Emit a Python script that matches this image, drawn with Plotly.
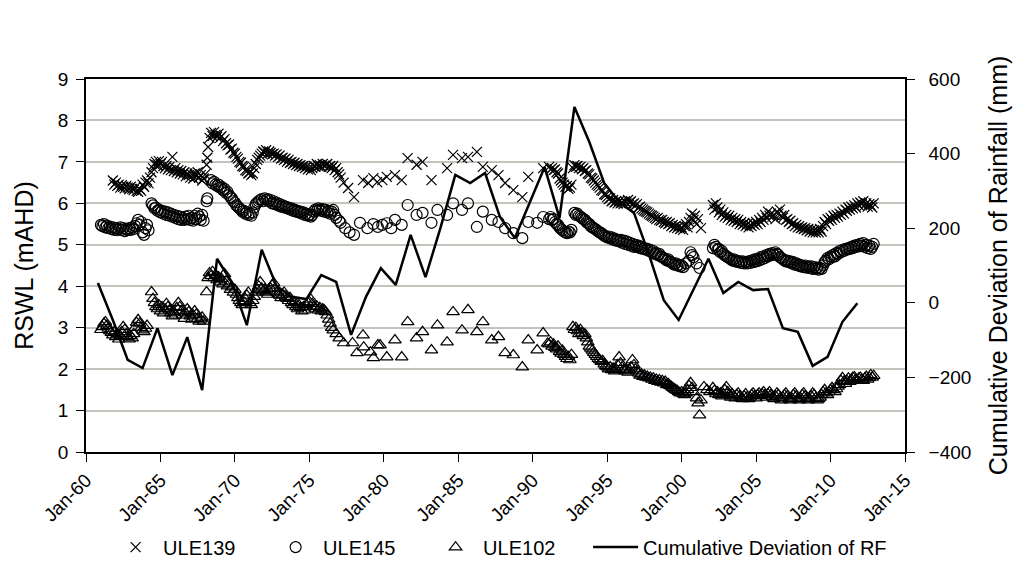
import plotly.graph_objects as go
from datetime import datetime, timedelta

# ---------------- data ----------------
ule139_year = [
    1961.8, 1961.9, 1962.0, 1962.1, 1962.2, 1962.3, 1962.4, 1962.5, 1962.6, 1962.7, 1962.8, 1962.9,
    1963.0, 1963.1, 1963.2, 1963.3, 1963.4, 1963.5, 1963.6, 1963.7, 1963.8, 1963.9, 1964.0, 1964.1,
    1964.2, 1964.3, 1964.4, 1964.5, 1964.6, 1964.7, 1964.8, 1964.9, 1965.0, 1965.1, 1965.2, 1965.3,
    1965.4, 1965.5, 1965.6, 1965.7, 1965.8, 1965.9, 1966.0, 1966.1, 1966.2, 1966.3, 1966.4, 1966.5,
    1966.6, 1966.7, 1966.8, 1966.9, 1967.0, 1967.1, 1967.2, 1967.3, 1967.4, 1967.5, 1967.6, 1967.7,
    1967.8, 1967.9, 1968.0, 1968.1, 1968.15, 1968.2, 1968.3, 1968.4, 1968.5, 1968.6, 1968.7, 1968.8,
    1968.9, 1969.0, 1969.1, 1969.2, 1969.3, 1969.4, 1969.5, 1969.6, 1969.7, 1969.8, 1969.9, 1970.0,
    1970.1, 1970.2, 1970.3, 1970.4, 1970.5, 1970.6, 1970.7, 1970.8, 1970.9, 1971.0, 1971.1, 1971.2,
    1971.3, 1971.4, 1971.5, 1971.6, 1971.7, 1971.8, 1971.9, 1972.0, 1972.1, 1972.2, 1972.3, 1972.4,
    1972.5, 1972.6, 1972.7, 1972.8, 1972.9, 1973.0, 1973.1, 1973.2, 1973.3, 1973.4, 1973.5, 1973.6,
    1973.7, 1973.8, 1973.9, 1974.0, 1974.1, 1974.2, 1974.3, 1974.4, 1974.5, 1974.6, 1974.7, 1974.8,
    1974.9, 1975.0, 1975.1, 1975.2, 1975.3, 1975.4, 1975.5, 1975.6, 1975.7, 1975.8, 1975.9, 1976.0,
    1976.1, 1976.2, 1976.3, 1976.4, 1976.5, 1976.6, 1976.7, 1976.8, 1976.9, 1977.0, 1977.1, 1977.3,
    1977.6, 1978.0,
    1978.6, 1978.95, 1979.3, 1979.55, 1979.9, 1980.2, 1980.75, 1981.2, 1981.6, 1982.2, 1982.6, 1983.2,
    1984.25, 1984.65, 1985.25, 1985.65, 1986.25, 1986.65, 1987.25, 1987.7, 1988.15, 1988.7, 1989.3,
    1989.7, 1990.7,
    1991.1, 1991.2, 1991.3, 1991.4, 1991.5, 1991.6, 1991.7, 1991.8, 1991.9, 1992.0, 1992.1, 1992.2,
    1992.3, 1992.4, 1992.5, 1992.6, 1992.7, 1992.8, 1992.9, 1993.0, 1993.1, 1993.2, 1993.3, 1993.4,
    1993.5, 1993.6, 1993.7, 1993.8, 1993.9, 1994.0, 1994.1, 1994.2, 1994.3, 1994.4, 1994.5, 1994.6,
    1994.7, 1994.8, 1994.9, 1995.0, 1995.1, 1995.2, 1995.3, 1995.4, 1995.5, 1995.6, 1995.7, 1995.8,
    1995.9, 1996.0, 1996.1, 1996.2, 1996.3, 1996.4, 1996.5, 1996.6, 1996.7, 1996.8, 1996.9, 1997.0,
    1997.1, 1997.2, 1997.3, 1997.4, 1997.5, 1997.6, 1997.7, 1997.8, 1997.9, 1998.0, 1998.1, 1998.2,
    1998.3, 1998.4, 1998.5, 1998.6, 1998.7, 1998.8, 1998.9, 1999.0, 1999.1, 1999.2, 1999.3, 1999.4,
    1999.5, 1999.6, 1999.7, 1999.8, 1999.9, 2000.0, 2000.1, 2000.2, 2000.3, 2000.4, 2000.5, 2000.6,
    2000.7, 2000.8, 2000.9, 2001.0, 2001.1, 2001.3,
    2002.1, 2002.2, 2002.3, 2002.4, 2002.5, 2002.6, 2002.7, 2002.8, 2002.9, 2003.0, 2003.1, 2003.2,
    2003.3, 2003.4, 2003.5, 2003.6, 2003.7, 2003.8, 2003.9, 2004.0, 2004.1, 2004.2, 2004.3, 2004.4,
    2004.5, 2004.6, 2004.7, 2004.8, 2004.9, 2005.0, 2005.1, 2005.2, 2005.3, 2005.4, 2005.5, 2005.6,
    2005.7, 2005.8, 2005.9, 2006.0, 2006.1, 2006.2, 2006.3, 2006.4, 2006.5, 2006.6, 2006.7, 2006.8,
    2006.9, 2007.0, 2007.1, 2007.2, 2007.3, 2007.4, 2007.5, 2007.6, 2007.7, 2007.8, 2007.9, 2008.0,
    2008.1, 2008.2, 2008.3, 2008.4, 2008.5, 2008.6, 2008.7, 2008.8, 2008.9, 2009.0, 2009.1, 2009.2,
    2009.3, 2009.4, 2009.5, 2009.6, 2009.7, 2009.8, 2009.9, 2010.0, 2010.1, 2010.2, 2010.3, 2010.4,
    2010.5, 2010.6, 2010.7, 2010.8, 2010.9, 2011.0, 2011.1, 2011.2, 2011.3, 2011.4, 2011.5, 2011.6,
    2011.7, 2011.8, 2011.9, 2012.0, 2012.1, 2012.2, 2012.3, 2012.4, 2012.5, 2012.6, 2012.7, 2012.8,
    2012.9,
]
ule139_rswl = [
    6.55, 6.45, 6.50, 6.42, 6.45, 6.38, 6.44, 6.40, 6.36, 6.42, 6.38, 6.34,
    6.40, 6.35, 6.32, 6.38, 6.30, 6.28, 6.35, 6.30, 6.45, 6.40, 6.50, 6.55,
    6.48, 6.62, 6.75, 6.85, 6.95, 7.00, 6.92, 7.02, 6.95, 7.00, 6.90, 6.85,
    6.90, 6.82, 6.88, 6.80, 7.12, 6.78, 6.85, 6.75, 6.80, 6.72, 6.78, 6.70,
    6.75, 6.65, 6.72, 6.68, 6.62, 6.70, 6.60, 6.72, 6.65, 6.75, 6.62, 6.68,
    6.55, 6.60, 6.70, 6.93, 7.10, 7.36, 7.58, 7.70, 7.62, 7.72, 7.65, 7.60,
    7.68, 7.58, 7.62, 7.50, 7.55, 7.45, 7.40, 7.42, 7.30, 7.32, 7.22, 7.20,
    7.12, 7.08, 7.00, 6.98, 6.90, 6.88, 6.80, 6.78, 6.72, 6.75, 6.68, 6.72,
    6.85, 6.95, 7.05, 7.10, 7.15, 7.20, 7.25, 7.22, 7.28, 7.20, 7.25, 7.22,
    7.18, 7.20, 7.15, 7.18, 7.12, 7.15, 7.08, 7.10, 7.05, 7.08, 7.00, 7.05,
    6.98, 7.00, 6.95, 6.98, 6.92, 6.95, 6.90, 6.92, 6.88, 6.90, 6.85, 6.88,
    6.82, 6.86, 6.80, 6.85, 6.90, 6.88, 6.95, 6.90, 6.92, 6.88, 6.95, 6.90,
    6.92, 6.95, 6.88, 6.90, 6.85, 6.90, 6.80, 6.85, 6.75, 6.70, 6.62, 6.50,
    6.37, 6.15,
    6.56, 6.49, 6.61, 6.51, 6.56, 6.64, 6.68, 6.56, 7.09, 6.93, 7.00, 6.56,
    6.85, 7.17, 7.09, 7.12, 7.24, 6.88, 6.80, 6.68, 6.49, 6.32, 6.15,
    6.64, 6.85,
    6.88, 6.82, 6.85, 6.80, 6.82, 6.75, 6.72, 6.60, 6.55, 6.50, 6.45, 6.40,
    6.42, 6.35, 6.38, 6.45, 6.85, 6.92, 6.88, 6.90, 6.85, 6.88, 6.82, 6.85,
    6.78, 6.80, 6.72, 6.70, 6.62, 6.60, 6.55, 6.50, 6.45, 6.42, 6.38, 6.32,
    6.30, 6.22, 6.20, 6.15, 6.10, 6.12, 6.05, 6.08, 6.02, 6.05, 6.00, 6.05,
    6.00, 6.02, 5.98, 6.05, 6.00, 6.08, 6.02, 6.05, 5.98, 6.00, 5.95, 5.98,
    5.90, 5.92, 5.88, 5.85, 5.82, 5.80, 5.78, 5.75, 5.72, 5.70, 5.68, 5.65,
    5.62, 5.65, 5.60, 5.58, 5.60, 5.55, 5.52, 5.55, 5.50, 5.52, 5.45, 5.48,
    5.42, 5.45, 5.40, 5.45, 5.38, 5.42, 5.36, 5.45, 5.50, 5.42, 5.55, 5.65,
    5.75, 5.60, 5.70, 5.50, 5.62, 5.40,
    5.96, 5.85, 6.00, 5.90, 5.78, 5.85, 5.72, 5.78, 5.68, 5.72, 5.65, 5.70,
    5.60, 5.65, 5.58, 5.62, 5.55, 5.60, 5.50, 5.55, 5.48, 5.52, 5.45, 5.50,
    5.42, 5.48, 5.45, 5.52, 5.48, 5.55, 5.50, 5.60, 5.55, 5.65, 5.60, 5.72,
    5.65, 5.80, 5.70, 5.75, 5.68, 5.72, 5.62, 5.80, 5.75, 5.85, 5.70, 5.65,
    5.72, 5.60, 5.62, 5.55, 5.58, 5.50, 5.52, 5.45, 5.48, 5.42, 5.45, 5.40,
    5.42, 5.38, 5.40, 5.35, 5.38, 5.32, 5.36, 5.30, 5.35, 5.30, 5.35, 5.30,
    5.38, 5.32, 5.45, 5.55, 5.50, 5.62, 5.58, 5.65, 5.60, 5.70, 5.65, 5.72,
    5.68, 5.75, 5.72, 5.80, 5.75, 5.85, 5.82, 5.90, 5.85, 5.92, 5.88, 5.95,
    5.90, 6.00, 5.95, 6.02, 5.98, 6.05, 5.95, 6.00, 5.92, 5.98, 5.95, 5.90,
    6.00,
]

ule145_year = [
    1961.0, 1961.1, 1961.2, 1961.3, 1961.4, 1961.5, 1961.6, 1961.7, 1961.8, 1961.9, 1962.0, 1962.1,
    1962.2, 1962.3, 1962.4, 1962.5, 1962.6, 1962.7, 1962.8, 1962.9, 1963.0, 1963.1, 1963.2, 1963.3,
    1963.4, 1963.5, 1963.6, 1963.7, 1963.8, 1963.9, 1964.0, 1964.1, 1964.2,
    1964.4, 1964.5, 1964.6, 1964.7, 1964.8, 1964.9, 1965.0, 1965.1, 1965.2, 1965.3, 1965.4, 1965.5,
    1965.6, 1965.7, 1965.8, 1965.9, 1966.0, 1966.1, 1966.2, 1966.3, 1966.4, 1966.5, 1966.6, 1966.7,
    1966.8, 1966.9, 1967.0, 1967.1, 1967.2, 1967.3, 1967.4, 1967.5, 1967.6, 1967.7, 1967.8, 1967.9,
    1968.1, 1968.15, 1968.4, 1968.5, 1968.6, 1968.7, 1968.8, 1968.9, 1969.0, 1969.1, 1969.2, 1969.3,
    1969.4, 1969.5, 1969.6, 1969.7, 1969.8, 1969.9, 1970.0, 1970.1, 1970.2, 1970.3, 1970.4, 1970.5,
    1970.6, 1970.7, 1970.8, 1970.9, 1971.0, 1971.1, 1971.2,
    1971.3, 1971.4, 1971.5, 1971.6, 1971.7, 1971.8, 1971.9, 1972.0, 1972.1, 1972.2, 1972.3, 1972.4,
    1972.5, 1972.6, 1972.7, 1972.8, 1972.9, 1973.0, 1973.1, 1973.2, 1973.3, 1973.4, 1973.5, 1973.6,
    1973.7, 1973.8, 1973.9, 1974.0, 1974.1, 1974.2, 1974.3, 1974.4, 1974.5, 1974.6, 1974.7, 1974.8,
    1974.9, 1975.0, 1975.1, 1975.2, 1975.3, 1975.4, 1975.5, 1975.6, 1975.7, 1975.8, 1975.9, 1976.0,
    1976.1, 1976.2, 1976.3, 1976.4, 1976.5, 1976.6, 1976.7, 1976.8, 1977.0, 1977.1, 1977.4, 1977.7,
    1978.0, 1978.4, 1978.9, 1979.3, 1979.6, 1979.9, 1980.2, 1980.5, 1980.75, 1981.2, 1981.6, 1982.2,
    1982.6, 1983.2, 1983.6, 1984.25, 1984.65, 1985.25, 1985.65, 1986.25, 1986.65, 1987.25, 1987.7,
    1988.15, 1988.7, 1989.3, 1989.7, 1990.3, 1990.7,
    1991.1, 1991.2, 1991.3, 1991.4, 1991.5, 1991.6, 1991.7, 1991.8, 1991.9, 1992.0, 1992.1, 1992.2,
    1992.3, 1992.4, 1992.5, 1992.6,
    1992.8, 1992.9, 1993.0, 1993.1, 1993.2, 1993.3, 1993.4, 1993.5, 1993.6, 1993.7, 1993.8, 1993.9,
    1994.0, 1994.1, 1994.2, 1994.3, 1994.4, 1994.5, 1994.6, 1994.7, 1994.8, 1994.9, 1995.0, 1995.1,
    1995.2, 1995.3, 1995.4, 1995.5, 1995.6, 1995.7, 1995.8, 1995.9, 1996.0, 1996.1, 1996.2, 1996.3,
    1996.4, 1996.5, 1996.6, 1996.7, 1996.8, 1996.9, 1997.0, 1997.1, 1997.2, 1997.3, 1997.4, 1997.5,
    1997.6, 1997.7, 1997.8, 1997.9, 1998.0, 1998.1, 1998.2, 1998.3, 1998.4, 1998.5, 1998.6, 1998.7,
    1998.8, 1998.9, 1999.0, 1999.1, 1999.2, 1999.3, 1999.4, 1999.5, 1999.6, 1999.7, 1999.8, 1999.9,
    2000.0, 2000.1, 2000.3, 2000.5, 2000.6, 2000.7, 2000.8, 2001.0, 2001.2,
    2002.1, 2002.2, 2002.3, 2002.4, 2002.5, 2002.6, 2002.7, 2002.8, 2002.9, 2003.0, 2003.1, 2003.2,
    2003.3, 2003.4, 2003.5, 2003.6, 2003.7, 2003.8, 2003.9, 2004.0, 2004.1, 2004.2, 2004.3, 2004.4,
    2004.5, 2004.6, 2004.7, 2004.8, 2004.9, 2005.0, 2005.1, 2005.2, 2005.3, 2005.4, 2005.5, 2005.6,
    2005.7, 2005.8, 2005.9, 2006.0, 2006.1, 2006.2, 2006.3, 2006.4, 2006.5, 2006.6, 2006.7, 2006.8,
    2006.9, 2007.0, 2007.1, 2007.2, 2007.3, 2007.4, 2007.5, 2007.6, 2007.7, 2007.8, 2007.9, 2008.0,
    2008.1, 2008.2, 2008.3, 2008.4, 2008.5, 2008.6, 2008.7, 2008.8, 2008.9, 2009.0, 2009.1, 2009.2,
    2009.3, 2009.4, 2009.5, 2009.6, 2009.7, 2009.8, 2009.9, 2010.0, 2010.1, 2010.2, 2010.3, 2010.4,
    2010.5, 2010.6, 2010.7, 2010.8, 2010.9, 2011.0, 2011.1, 2011.2, 2011.3, 2011.4, 2011.5, 2011.6,
    2011.7, 2011.8, 2011.9, 2012.0, 2012.1, 2012.2, 2012.3, 2012.4, 2012.5, 2012.6, 2012.7, 2012.8,
    2012.9,
]
ule145_rswl = [
    5.48, 5.45, 5.50, 5.42, 5.46, 5.40, 5.44, 5.38, 5.42, 5.36, 5.40, 5.35,
    5.38, 5.42, 5.36, 5.40, 5.33, 5.38, 5.35, 5.40, 5.36, 5.42, 5.38, 5.45,
    5.52, 5.60, 5.48, 5.55, 5.30, 5.24, 5.40, 5.48, 5.35,
    6.00, 5.95, 5.88, 5.90, 5.82, 5.85, 5.78, 5.82, 5.75, 5.80, 5.72, 5.78,
    5.70, 5.75, 5.68, 5.72, 5.65, 5.70, 5.62, 5.68, 5.60, 5.65, 5.60, 5.68,
    5.62, 5.70, 5.60, 5.65, 5.58, 5.70, 5.62, 5.75, 5.68, 5.60, 5.72, 5.58,
    6.05, 6.12, 6.56, 6.48, 6.52, 6.45, 6.42, 6.45, 6.38, 6.40, 6.32, 6.35,
    6.25, 6.28, 6.20, 6.15, 6.12, 6.05, 6.02, 5.95, 5.92, 5.88, 5.85, 5.80,
    5.82, 5.75, 5.78, 5.72, 5.75, 5.70, 5.78,
    5.90, 5.98, 6.02, 6.05, 6.08, 6.10, 6.05, 6.12, 6.08, 6.10, 6.05, 6.08,
    6.00, 6.05, 5.98, 6.02, 5.95, 5.98, 5.92, 5.95, 5.90, 5.92, 5.88, 5.90,
    5.85, 5.88, 5.82, 5.85, 5.80, 5.82, 5.78, 5.80, 5.75, 5.78, 5.72, 5.75,
    5.70, 5.72, 5.68, 5.72, 5.80, 5.85, 5.82, 5.88, 5.85, 5.82, 5.86, 5.80,
    5.84, 5.78, 5.82, 5.75, 5.80, 5.84, 5.72, 5.65, 5.58, 5.53, 5.40, 5.30,
    5.24, 5.53, 5.40, 5.50, 5.43, 5.48, 5.52, 5.40, 5.60, 5.48, 5.96, 5.72,
    5.77, 5.53, 5.84, 5.72, 6.00, 5.84, 6.00, 5.43, 5.80, 5.60, 5.55,
    5.40, 5.28, 5.16, 5.55, 5.53, 5.67,
    5.62, 5.67, 5.60, 5.62, 5.55, 5.50, 5.48, 5.42, 5.38, 5.35, 5.32, 5.30,
    5.28, 5.32, 5.30, 5.36,
    5.77, 5.72, 5.75, 5.70, 5.68, 5.65, 5.62, 5.60, 5.55, 5.52, 5.50, 5.45,
    5.42, 5.40, 5.38, 5.35, 5.32, 5.30, 5.28, 5.25, 5.22, 5.20, 5.18, 5.20,
    5.15, 5.18, 5.12, 5.15, 5.10, 5.12, 5.08, 5.12, 5.05, 5.10, 5.02, 5.08,
    5.00, 5.05, 4.98, 5.02, 4.95, 5.00, 4.95, 4.98, 4.92, 4.95, 4.90, 4.92,
    4.88, 4.90, 4.85, 4.88, 4.82, 4.85, 4.78, 4.80, 4.75, 4.78, 4.72, 4.70,
    4.68, 4.65, 4.62, 4.65, 4.60, 4.58, 4.55, 4.52, 4.55, 4.50, 4.52, 4.48,
    4.50, 4.46, 4.55, 4.62, 4.82, 4.75, 4.70, 4.55, 4.44,
    4.92, 5.00, 4.95, 4.88, 4.90, 4.82, 4.85, 4.78, 4.75, 4.72, 4.70, 4.68,
    4.65, 4.62, 4.65, 4.60, 4.62, 4.58, 4.60, 4.56, 4.60, 4.55, 4.58, 4.55,
    4.60, 4.56, 4.62, 4.58, 4.65, 4.60, 4.66, 4.62, 4.70, 4.65, 4.72, 4.68,
    4.75, 4.72, 4.78, 4.75, 4.80, 4.76, 4.82, 4.78, 4.75, 4.70, 4.68, 4.65,
    4.62, 4.60, 4.62, 4.58, 4.60, 4.55, 4.58, 4.52, 4.55, 4.50, 4.52, 4.48,
    4.50, 4.46, 4.50, 4.45, 4.48, 4.44, 4.48, 4.42, 4.46, 4.42, 4.45, 4.40,
    4.44, 4.42, 4.50, 4.58, 4.62, 4.68, 4.65, 4.72, 4.70, 4.76, 4.72, 4.80,
    4.78, 4.85, 4.82, 4.88, 4.85, 4.90, 4.88, 4.92, 4.90, 4.95, 4.92, 4.98,
    4.95, 5.00, 4.96, 5.02, 4.98, 5.04, 4.95, 5.00, 4.92, 4.98, 4.90, 4.95,
    5.02,
]

ule102_year = [
    1961.0, 1961.1, 1961.2, 1961.3, 1961.4, 1961.5, 1961.6, 1961.7, 1961.8, 1961.9, 1962.0, 1962.1,
    1962.2, 1962.3, 1962.4, 1962.5, 1962.6, 1962.7, 1962.8, 1962.9, 1963.0, 1963.1, 1963.2, 1963.3,
    1963.4, 1963.5, 1963.6, 1963.7, 1963.8, 1963.9, 1964.0, 1964.1,
    1964.4, 1964.5, 1964.6, 1964.7, 1964.8, 1964.9, 1965.0, 1965.1, 1965.2, 1965.3, 1965.4, 1965.5,
    1965.6, 1965.7, 1965.8, 1965.9, 1966.0, 1966.1, 1966.2, 1966.3, 1966.4, 1966.5, 1966.6, 1966.7,
    1966.8, 1966.9, 1967.0, 1967.1, 1967.2, 1967.3, 1967.4, 1967.5, 1967.6, 1967.7, 1967.8, 1967.9,
    1968.1, 1968.2, 1968.3, 1968.4, 1968.5, 1968.6, 1968.7, 1968.8, 1968.9, 1969.0, 1969.1, 1969.2,
    1969.3, 1969.4, 1969.5, 1969.6, 1969.7, 1969.8, 1969.9, 1970.0, 1970.1, 1970.2, 1970.3, 1970.4,
    1970.5, 1970.6, 1970.7, 1970.8, 1970.9, 1971.0, 1971.1, 1971.2, 1971.3, 1971.4, 1971.5, 1971.6,
    1971.7, 1971.8, 1971.9, 1972.0, 1972.1, 1972.2, 1972.3, 1972.4, 1972.5, 1972.6, 1972.7, 1972.8,
    1972.9, 1973.0, 1973.1, 1973.2, 1973.3, 1973.4, 1973.5, 1973.6, 1973.7, 1973.8, 1973.9, 1974.0,
    1974.1, 1974.2, 1974.3, 1974.4, 1974.5, 1974.6, 1974.7, 1974.8, 1974.9, 1975.0, 1975.1, 1975.2,
    1975.3, 1975.4, 1975.5, 1975.6, 1975.7, 1975.8, 1975.9, 1976.0, 1976.1, 1976.2, 1976.3, 1976.4,
    1976.5, 1976.6, 1976.8, 1977.0, 1977.3, 1977.9, 1978.2, 1978.6, 1978.65, 1979.1, 1979.3, 1979.6,
    1979.75, 1980.2, 1980.75, 1981.2, 1981.6, 1982.2, 1982.6, 1983.2, 1983.6, 1984.25, 1984.65,
    1985.25, 1985.65, 1986.25, 1986.65, 1987.25, 1987.7, 1988.15, 1988.7, 1989.3, 1989.7, 1990.3,
    1990.7,
    1991.0, 1991.1, 1991.2, 1991.3, 1991.4, 1991.5, 1991.6, 1991.7, 1991.8, 1991.9, 1992.0, 1992.1,
    1992.2, 1992.3, 1992.4, 1992.5, 1992.6,
    1992.7, 1992.8, 1992.9, 1993.0, 1993.1, 1993.2, 1993.3, 1993.4, 1993.5, 1993.6, 1993.7, 1993.8,
    1993.9, 1994.0, 1994.1, 1994.2, 1994.3, 1994.4, 1994.5, 1994.6, 1994.7, 1994.8, 1994.9, 1995.0,
    1995.1, 1995.2, 1995.3, 1995.4, 1995.5, 1995.6, 1995.7, 1995.8, 1995.9, 1996.0, 1996.1, 1996.2,
    1996.3, 1996.4, 1996.5, 1996.6, 1996.7, 1996.8, 1996.9, 1997.0, 1997.1, 1997.2, 1997.3, 1997.4,
    1997.5, 1997.6, 1997.7, 1997.8, 1997.9, 1998.0, 1998.1, 1998.2, 1998.3, 1998.4, 1998.5, 1998.6,
    1998.7, 1998.8, 1998.9, 1999.0, 1999.1, 1999.2, 1999.3, 1999.4, 1999.5, 1999.6, 1999.7, 1999.8,
    1999.9, 2000.0, 2000.1, 2000.2, 2000.3, 2000.4, 2000.5, 2000.6, 2000.7, 2000.8, 2001.0, 2001.1,
    2001.2, 2001.3, 2001.5, 2001.7, 2001.9, 2002.1, 2002.2, 2002.3, 2002.4, 2002.5, 2002.6, 2002.7,
    2002.8, 2002.9, 2003.0, 2003.1, 2003.2, 2003.3, 2003.4, 2003.5, 2003.6, 2003.7, 2003.8, 2003.9,
    2004.0, 2004.1, 2004.2, 2004.3, 2004.4, 2004.5, 2004.6, 2004.7, 2004.8, 2004.9, 2005.0, 2005.1,
    2005.2, 2005.3, 2005.4, 2005.5, 2005.6, 2005.7, 2005.8, 2005.9, 2006.0, 2006.1, 2006.2, 2006.3,
    2006.4, 2006.5, 2006.6, 2006.7, 2006.8, 2006.9, 2007.0, 2007.1, 2007.2, 2007.3, 2007.4, 2007.5,
    2007.6, 2007.7, 2007.8, 2007.9, 2008.0, 2008.1, 2008.2, 2008.3, 2008.4, 2008.5, 2008.6, 2008.7,
    2008.8, 2008.9, 2009.0, 2009.1, 2009.2, 2009.3, 2009.4, 2009.5, 2009.6, 2009.7, 2009.8, 2009.9,
    2010.0, 2010.1, 2010.2, 2010.3, 2010.4, 2010.5, 2010.6, 2010.7, 2010.8, 2010.9, 2011.0, 2011.1,
    2011.2, 2011.3, 2011.4, 2011.5, 2011.6, 2011.7, 2011.8, 2011.9, 2012.0, 2012.1, 2012.2, 2012.3,
    2012.4, 2012.5, 2012.6, 2012.7, 2012.8, 2012.9,
]
ule102_rswl = [
    2.95, 3.02, 3.10, 3.14, 3.05, 2.98, 2.92, 2.88, 2.82, 2.90, 2.78, 2.85,
    2.72, 2.80, 2.90, 3.02, 2.95, 2.85, 2.78, 2.72, 2.80, 2.75, 2.85, 3.00,
    3.12, 3.19, 3.10, 3.00, 2.94, 2.90, 2.98, 3.05,
    3.86, 3.70, 3.60, 3.50, 3.45, 3.55, 3.40, 3.50, 3.35, 3.45, 3.58, 3.50,
    3.42, 3.35, 3.28, 3.38, 3.30, 3.48, 3.60, 3.50, 3.40, 3.30, 3.22, 3.35,
    3.45, 3.38, 3.28, 3.20, 3.30, 3.40, 3.32, 3.22, 3.15, 3.20, 3.25, 3.15,
    3.86, 4.20, 4.32, 4.25, 4.35, 4.20, 4.28, 4.15, 4.22, 4.10, 4.18, 4.05,
    4.30, 4.12, 4.00, 4.05, 3.92, 3.98, 3.85, 3.92, 3.80, 3.72, 3.65, 3.60,
    3.55, 3.62, 3.70, 3.78, 3.85, 3.60, 3.55, 3.65, 3.75, 3.85, 3.92, 4.00,
    4.10, 3.95, 3.88, 3.92, 3.85, 3.80, 3.88, 3.95, 4.02, 4.08, 3.95, 3.85,
    3.80, 3.78, 3.72, 3.80, 3.85, 3.75, 3.70, 3.65, 3.72, 3.60, 3.55, 3.62,
    3.50, 3.45, 3.55, 3.48, 3.40, 3.50, 3.42, 3.55, 3.60, 3.62, 3.68, 3.58,
    3.50, 3.45, 3.52, 3.42, 3.48, 3.40, 3.45, 3.42, 3.38, 3.30, 3.20, 3.10,
    3.00, 2.94, 2.85, 2.75, 2.63, 2.63, 2.39, 2.82, 2.53, 2.41, 2.27, 2.58,
    2.58, 2.29, 2.70, 2.29, 3.14, 2.75, 2.90, 2.46, 3.06, 2.65, 3.38,
    2.94, 3.43, 2.90, 3.14, 2.70, 2.78, 2.39, 2.34, 2.05, 2.70, 2.46,
    2.87,
    2.62, 2.60, 2.65, 2.55, 2.60, 2.52, 2.48, 2.55, 2.42, 2.38, 2.45, 2.35,
    2.30, 2.25, 2.30, 2.22, 2.35,
    3.02, 2.95, 3.00, 2.92, 2.85, 2.95, 2.87, 2.80, 2.85, 2.75, 2.65, 2.55,
    2.50, 2.45, 2.40, 2.35, 2.30, 2.25, 2.22, 2.18, 2.20, 2.12, 2.08, 2.05,
    2.00, 2.05, 1.98, 2.02, 1.95, 2.00, 2.10, 2.29, 2.15, 2.05, 1.98, 1.95,
    2.00, 1.92, 1.98, 2.05, 2.22, 2.10, 2.00, 1.95, 1.90, 1.85, 1.88, 1.82,
    1.85, 1.80, 1.82, 1.78, 1.80, 1.75, 1.78, 1.72, 1.75, 1.70, 1.74, 1.68,
    1.72, 1.66, 1.70, 1.62, 1.65, 1.60, 1.58, 1.55, 1.52, 1.50, 1.48, 1.45,
    1.42, 1.45, 1.40, 1.38, 1.42, 1.50, 1.60, 1.67, 1.55, 1.45, 1.30, 1.18,
    0.89, 1.25, 1.57, 1.50, 1.45, 1.55, 1.48, 1.40, 1.45, 1.38, 1.42, 1.35,
    1.40, 1.50, 1.57, 1.45, 1.38, 1.32, 1.40, 1.35, 1.30, 1.38, 1.42, 1.35,
    1.30, 1.28, 1.35, 1.40, 1.33, 1.28, 1.32, 1.38, 1.42, 1.35, 1.30, 1.38,
    1.42, 1.36, 1.40, 1.45, 1.38, 1.32, 1.40, 1.45, 1.38, 1.33, 1.28, 1.35,
    1.42, 1.38, 1.30, 1.25, 1.32, 1.38, 1.42, 1.35, 1.28, 1.25, 1.30, 1.38,
    1.42, 1.35, 1.28, 1.25, 1.30, 1.38, 1.42, 1.35, 1.30, 1.25, 1.28, 1.35,
    1.42, 1.38, 1.30, 1.25, 1.28, 1.32, 1.38, 1.45, 1.50, 1.42, 1.38, 1.45,
    1.50, 1.55, 1.50, 1.45, 1.52, 1.58, 1.62, 1.72, 1.79, 1.70, 1.65, 1.72,
    1.78, 1.70, 1.75, 1.80, 1.81, 1.75, 1.72, 1.78, 1.80, 1.75, 1.72, 1.78,
    1.82, 1.75, 1.80, 1.86, 1.80, 1.84,
]

rf_year = [
    1960.8, 1961.8, 1962.8, 1963.8, 1964.8, 1965.8, 1966.8, 1967.8, 1968.8, 1969.8, 1970.8, 1971.8,
    1972.8, 1973.8, 1974.8, 1975.8, 1976.8, 1977.8, 1978.8, 1979.8, 1980.8, 1981.8, 1982.8, 1983.8,
    1984.8, 1985.8, 1986.8, 1987.8, 1988.8, 1989.8, 1990.8, 1991.8, 1992.8, 1993.8, 1994.8, 1995.8,
    1996.8, 1997.8, 1998.8, 1999.8, 2000.8, 2001.8, 2002.8, 2003.8, 2004.8, 2005.8, 2006.8, 2007.8,
    2008.8, 2009.8, 2010.8, 2011.8,
]
rf_cumdev = [
    53, -46, -153, -175, -68, -194, -92, -234, 118, 55, -60, 142,
    45, 16, 10, 74, 56, -86, 16, 93, 48, 182, 69, 200,
    343, 321, 348, 230, 174, 270, 364, 227, 525, 431, 321, 270,
    241, 130, 7, -46, 35, 118, 26, 56, 34, 37, -68, -78,
    -169, -145, -51, -1,
]

x_tick_values = ["1960-01-01", "1965-01-01", "1970-01-01", "1975-01-01", "1980-01-01",
                 "1985-01-01", "1990-01-01", "1995-01-01", "2000-01-01", "2005-01-01",
                 "2010-01-01", "2015-01-01"]


def to_date(v):
    y = int(v)
    d = datetime(y, 1, 1) + timedelta(days=(v - y) * 365.25)
    return d.strftime("%Y-%m-%d")


FONT = "Liberation Sans, Arial, sans-serif"

fig = go.Figure()
fig.add_trace(go.Scatter(
    x=[to_date(v) for v in ule139_year], y=ule139_rswl, mode="markers", name="ULE139",
    marker=dict(symbol="x-thin", size=10, color="black", line=dict(color="black", width=1.2)),
))
fig.add_trace(go.Scatter(
    x=[to_date(v) for v in ule145_year], y=ule145_rswl, mode="markers", name="ULE145",
    marker=dict(symbol="circle-open", size=11, color="black", line=dict(color="black", width=1.2)),
))
fig.add_trace(go.Scatter(
    x=[to_date(v) for v in ule102_year], y=ule102_rswl, mode="markers", name="ULE102",
    marker=dict(symbol="triangle-up-open", size=11, color="black", line=dict(color="black", width=1.2)),
))
fig.add_trace(go.Scatter(
    x=[to_date(v) for v in rf_year], y=rf_cumdev, mode="lines", name="Cumulative Deviation of RF",
    line=dict(color="black", width=2.5), yaxis="y2", legendwidth=250,
))

fig.update_layout(
    width=1033, height=563,
    margin=dict(l=86, r=128, t=79, b=111, autoexpand=False),
    paper_bgcolor="white", plot_bgcolor="white",
    font=dict(family=FONT, size=19, color="black"),
    showlegend=True,
    legend=dict(orientation="h", x=0.027, xanchor="left", y=-0.255, yanchor="middle",
                font=dict(size=20), itemwidth=45, entrywidth=100, bgcolor="rgba(0,0,0,0)"),
    xaxis=dict(
        type="date", range=["1960-01-01", "2015-01-01"],
        tickvals=x_tick_values, tickformat="%b-%y", tickangle=-45,
        ticks="outside", ticklen=8, tickcolor="black", tickwidth=1.2,
        showline=True, linecolor="black", linewidth=1.5, mirror=True,
        showgrid=False, zeroline=False, tickfont=dict(size=19), automargin=False,
    ),
    yaxis=dict(
        range=[0, 9], dtick=1, tick0=0,
        ticks="outside", ticklen=8, tickcolor="black", tickwidth=1.2,
        showline=True, linecolor="black", linewidth=1.5,
        showgrid=True, gridcolor="#c4c2ba", gridwidth=1.5, zeroline=False,
        title=dict(text="RSWL (mAHD)", font=dict(size=25), standoff=17),
        tickfont=dict(size=19), ticklabelstandoff=4, automargin=False,
    ),
    yaxis2=dict(
        range=[-400, 600], dtick=200, tick0=-400, overlaying="y", side="right",
        ticks="outside", ticklen=8, tickcolor="black", tickwidth=1.2,
        showline=True, linecolor="black", linewidth=1.5,
        showgrid=False, zeroline=False,
        title=dict(text="Cumulative Deviation of Rainfall (mm)", font=dict(size=25), standoff=19),
        tickfont=dict(size=19), ticklabelstandoff=10, automargin=False,
    ),
)

fig.write_html(
    "out.html",
    config={"displayModeBar": False},
    post_script="document.body.style.margin='0px';document.body.style.padding='0px';",
)
